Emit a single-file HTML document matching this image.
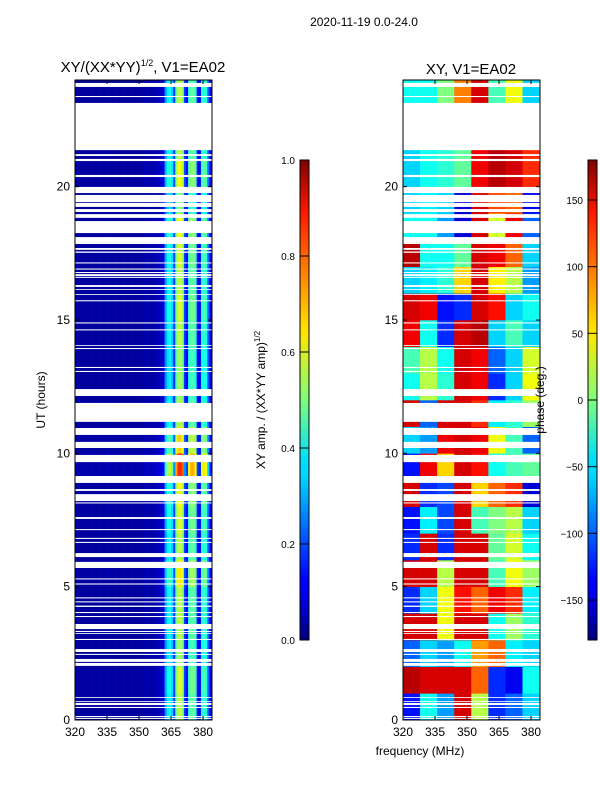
<!DOCTYPE html>
<html><head><meta charset="utf-8">
<style>
body{margin:0;background:#fff;}
svg{display:block;font-family:"Liberation Sans","DejaVu Sans",sans-serif;}
</style></head>
<body>
<svg id="fig" width="600" height="800" viewBox="0 0 600 800">
<defs>
<linearGradient id="jetv" x1="0" y1="1" x2="0" y2="0">
<stop offset="0" stop-color="#00007f"/><stop offset="0.11" stop-color="#0000ff"/>
<stop offset="0.125" stop-color="#0000ff"/><stop offset="0.34" stop-color="#00d4ff"/>
<stop offset="0.375" stop-color="#0df"/><stop offset="0.5" stop-color="#7dff7a"/>
<stop offset="0.64" stop-color="#ffe600"/><stop offset="0.66" stop-color="#ffd700"/>
<stop offset="0.89" stop-color="#ff1a00"/><stop offset="1" stop-color="#7f0000"/>
</linearGradient>
</defs>
<text x="364" y="26" font-size="12" text-anchor="middle">2020-11-19 0.0-24.0</text>
<text x="143" y="72" font-size="15" text-anchor="middle">XY/(XX*YY)<tspan font-size="9" dy="-6">1/2</tspan><tspan dy="6">, V1=EA02</tspan></text>
<text x="471" y="74" font-size="15" text-anchor="middle">XY, V1=EA02</text>
<g id="ampPanel"></g>
<g id="phasePanel"></g>
<g id="axes"></g>
<text transform="translate(45,400) rotate(-90)" font-size="12" text-anchor="middle">UT (hours)</text>
<text x="420" y="755" font-size="12" text-anchor="middle">frequency (MHz)</text>
<rect x="300" y="160" width="9" height="480" fill="url(#jetv)" stroke="#000" stroke-width="1"/>
<rect x="588" y="160" width="9" height="480" fill="url(#jetv)" stroke="#000" stroke-width="1"/>
<g id="cbticks"></g>
<text transform="translate(265,400) rotate(-90)" font-size="12" text-anchor="middle">XY amp. / (XX*YY amp)<tspan font-size="8" dy="-5">1/2</tspan></text>
<text transform="translate(544,400) rotate(-90)" font-size="12" text-anchor="middle">phase (deg.)</text>
</svg>
<script>
// ---- data ----
const freqMin = 320, freqMax = 384.2, hourMin = 0, hourMax = 24;
const ampProfile = [0.03,0.03,0.03,0.03,0.03,0.03,0.03,0.03,0.03,0.03,0.03,0.03,0.03,0.03,0.03,0.04,0.03,0.03,0.03,0.03,0.03,0.03,0.03,0.03,0.03,0.03,0.03,0.03,0.03,0.03,0.03,0.03,0.04,0.04,0.04,0.04,0.04,0.04,0.05,0.06,0.07,0.09,0.28,0.36,0.38,0.33,0.18,0.48,0.56,0.56,0.52,0.18,0.13,0.42,0.47,0.47,0.42,0.13,0.1,0.4,0.43,0.4,0.22,0.1];
const hourGain = [1.0,1.05,0.95,1.0,1.0,1.15,1.0,1.05,1.1,1.5,1.2,1.0,0.95,0.95,1.0,1.05,1.0,1.05,1.1,0.9,1.1,1.0,1.0,1.0];
const phaseCols = [320,328,336,344,352,360,368,376,384.2];
const phaseGrid = [
[-130,-40,-80,150,20,-120,-100,-60],
[160,150,150,150,100,-120,-140,-40],
[-100,-60,-80,-40,80,100,-50,-60],
[150,150,40,150,150,-40,10,-30],
[-120,-60,40,130,100,140,120,-50],
[150,150,20,150,150,-20,40,10],
[-120,150,-120,150,150,-10,30,-40],
[-130,-50,-110,150,-20,0,20,-60],
[150,-120,-110,150,60,100,120,-150],
[-130,140,60,150,130,-40,-20,-10],
[-60,-80,140,150,140,40,-20,-100],
[150,-100,150,150,120,-50,-30,10],
[-40,20,-30,150,140,-120,-60,40],
[-20,20,-40,150,140,-100,-60,30],
[140,-40,-120,150,160,-60,-20,-60],
[150,140,-130,-120,150,130,-60,-40],
[-60,-50,-30,60,150,50,20,-80],
[160,-40,-40,-10,150,140,100,-60],
[-40,-40,-80,-150,150,30,140,-100],
[-60,-50,-60,-150,150,110,100,-140],
[-60,-40,-30,-10,140,160,150,120],
[-60,-40,-30,-10,140,160,150,120],
[-40,-40,0,90,150,-20,40,-60],
[-40,-40,0,90,150,-20,40,-60]];
const gaps = [[23.74,23.89],[23.36,23.40],[21.37,23.14],[21.15,21.22],[20.96,21.04],[20.36,20.44],[19.76,19.99],[19.42,19.69],[19.24,19.39],[19.05,19.16],[18.83,18.97],[18.26,18.71],[17.89,18.11],[17.85,17.89],[17.63,17.70],[17.52,17.57],[17.12,17.16],[16.89,16.93],[16.76,16.80],[16.65,16.72],[16.58,16.62],[16.24,16.31],[16.13,16.16],[15.94,15.97],[15.70,15.74],[14.87,14.91],[14.61,14.65],[14.03,14.06],[13.91,13.95],[13.20,13.24],[13.05,13.09],[12.15,12.41],[11.18,11.89],[10.69,10.95],[10.20,10.43],[9.67,9.94],[8.89,9.15],[8.59,8.66],[8.21,8.47],[8.12,8.16],[7.54,7.61],[7.12,7.16],[6.79,6.83],[6.64,6.68],[6.11,6.26],[5.70,5.93],[5.27,5.31],[5.08,5.12],[4.56,4.60],[4.41,4.45],[4.24,4.29],[4.01,4.05],[3.86,3.90],[3.41,3.60],[3.30,3.34],[3.23,3.26],[3.00,3.04],[2.55,2.66],[2.44,2.48],[2.18,2.29],[2.03,2.14],[0.83,0.86],[0.68,0.71],[0.56,0.64],[0.45,0.49],[0.11,0.15],[0.04,0.08]];
const xTicks = [320,335,350,365,380];
const yTicks = [0,5,10,15,20];
const ampTicks = [0.0,0.2,0.4,0.6,0.8,1.0];
const phaseTicks = [-150,-100,-50,0,50,100,150];

// ---- helpers ----
const NS = "http://www.w3.org/2000/svg";
function jet(v){v=Math.max(0,Math.min(1,v));
 const r=Math.max(0,Math.min(1,1.5-Math.abs(4*v-3))),g=Math.max(0,Math.min(1,1.5-Math.abs(4*v-2))),b=Math.max(0,Math.min(1,1.5-Math.abs(4*v-1)));
 return `rgb(${Math.round(r*255)},${Math.round(g*255)},${Math.round(b*255)})`;}
function mk(tag,attrs,parent){const e=document.createElementNS(NS,tag);for(const k in attrs)e.setAttribute(k,attrs[k]);parent.appendChild(e);return e;}
const panels=[{x0:75,x1:212,g:'ampPanel'},{x0:403,x1:540,g:'phasePanel'}];
const yT=80,yB=720;
function yScale(h){return yB-(h-hourMin)/(hourMax-hourMin)*(yB-yT);}
function xScale(p,f){return p.x0+(f-freqMin)/(freqMax-freqMin)*(p.x1-p.x0);}

// amplitude
{const p=panels[0],g=document.getElementById(p.g);
 for(let h=0;h<24;h++)for(let c=0;c<ampProfile.length;c++){
  const f0=freqMin+c,f1=Math.min(freqMin+c+1,freqMax);
  const r=mk('rect',{x:xScale(p,f0),y:yScale(h+1),width:xScale(p,f1)-xScale(p,f0)+0.3,height:yScale(h)-yScale(h+1)+0.3,fill:jet(ampProfile[c]*hourGain[h])},g);
  
  
 }}
// phase
{const p=panels[1],g=document.getElementById(p.g);
 for(let h=0;h<24;h++)for(let c=0;c<8;c++){
  const r=mk('rect',{x:xScale(p,phaseCols[c]),y:yScale(h+1),width:xScale(p,phaseCols[c+1])-xScale(p,phaseCols[c])+0.3,height:yScale(h)-yScale(h+1)+0.3,fill:jet((phaseGrid[h][c]+180)/360)},g);
  
  
 }}
// gaps and axes
const ax=document.getElementById('axes');
panels.forEach(p=>{
 gaps.forEach(gp=>{
  const r=mk('rect',{x:p.x0,y:yScale(gp[1]),width:p.x1-p.x0,height:yScale(gp[0])-yScale(gp[1]),fill:'#fff'},ax);
  
  
 });
 const f=mk('rect',{x:p.x0,y:yT,width:p.x1-p.x0,height:yB-yT,fill:'none',stroke:'#000','stroke-width':1},ax);
 
 
 xTicks.forEach(t=>{const x=xScale(p,t);
  mk('line',{x1:x,x2:x,y1:yB,y2:yB-4,stroke:'#000'},ax);mk('line',{x1:x,x2:x,y1:yT,y2:yT+4,stroke:'#000'},ax);
  const tx=mk('text',{x:x,y:yB+16,'font-size':12,'text-anchor':'middle'},ax);tx.textContent=t;
  
  });
 yTicks.forEach(t=>{const y=yScale(t);
  mk('line',{x1:p.x0,x2:p.x0+4,y1:y,y2:y,stroke:'#000'},ax);mk('line',{x1:p.x1,x2:p.x1-4,y1:y,y2:y,stroke:'#000'},ax);
  const tx=mk('text',{x:p.x0-5,y:y+4,'font-size':12,'text-anchor':'end'},ax);tx.textContent=t;
  
  });
});
// colorbar ticks
const cb=document.getElementById('cbticks');
ampTicks.forEach(t=>{const y=640-t*480;
 mk('line',{x1:300,x2:309,y1:y,y2:y,stroke:'#000'},cb);
 const tx=mk('text',{x:295,y:y+4,'font-size':10,'text-anchor':'end'},cb);tx.textContent=t.toFixed(1);
 
 });
phaseTicks.forEach(t=>{const y=640-(t+180)/360*480;
 mk('line',{x1:588,x2:597,y1:y,y2:y,stroke:'#000'},cb);
 const tx=mk('text',{x:583,y:y+4,'font-size':10,'text-anchor':'end'},cb);tx.textContent=t<0?'\u2212'+(-t):t;
 
 });
</script>
</body></html>
